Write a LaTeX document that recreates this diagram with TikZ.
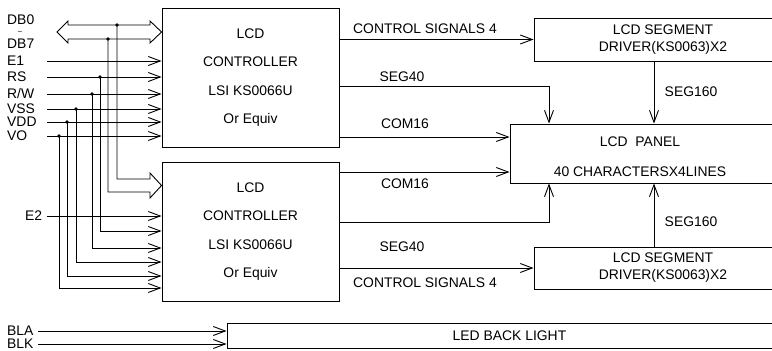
\documentclass[tikz,border=0pt]{standalone}
\usepackage{fontspec}
\setmainfont{Liberation Sans}
\usetikzlibrary{arrows.meta}

\begin{document}
\begin{tikzpicture}[x=1pt, y=-1pt,
  every node/.style={font=\fontsize{13.9}{17}\selectfont},
  block/.style={draw, line width=0.9pt, inner sep=0pt, align=center},
  ctrl/.style={block, minimum width=177, minimum height=139,
    font=\fontsize{13.9}{28.5}\selectfont},
  wire/.style={line width=0.9pt},
  sig/.style={line width=0.9pt, -{Straight Barb[length=12pt, width=9pt]}},
  pinlbl/.style={anchor=west, inner sep=0pt},
  lbl/.style={inner sep=0pt},
  tap/.style={circle, fill, inner sep=0pt, minimum size=3.6pt}
]
  \useasboundingbox (0,0) rectangle (772,351);
  \clip (0,0) rectangle (772,351);

  % blocks
  \node[ctrl] (ctrlA) at (250.5,77.5) {LCD\\CONTROLLER\\LSI KS0066U\\Or Equiv};
  \node[ctrl] (ctrlB) at (250.5,231.5) {LCD\\CONTROLLER\\LSI KS0066U\\Or Equiv};
  \node[block, minimum width=258, minimum height=43] (drvA) at (663,39.5)
    {LCD SEGMENT\\DRIVER(KS0063)X2};
  \node[block, minimum width=258, minimum height=42] (drvB) at (663,268)
    {LCD SEGMENT\\DRIVER(KS0063)X2};
  \node[block, minimum width=282, minimum height=59] (panel) at (651,153.5) {};
  \node[lbl, align=center, font=\fontsize{13.9}{30}\selectfont] (panelTxt) at (640,157)
    {LCD~~PANEL\\40 CHARACTERSX4LINES};
  \node[block, minimum width=565, minimum height=25.5] (led) at (509.5,335.75) {LED BACK LIGHT};

  % data bus
  \node[pinlbl] (lDB0) at (7,20) {DB0};
  \node[lbl, font=\fontsize{8}{8}\selectfont] (lTilde) at (20,32.5) {\textasciitilde};
  \node[pinlbl] (lDB7) at (7,44) {DB7};
  \draw[wire] (68,25) -- (150,25) -- (150,21) -- (ctrlA.west |- 0,32) -- (150,43) -- (150,39)
    -- (68,39) -- (68,43) -- (57,32) -- (68,21) -- cycle;
  \node[tap] (tapDB0) at (117,25) {};
  \node[tap] (tapDB7) at (108,39) {};
  \draw[wire] (tapDB0.center) -- (117,179) -- (150,179) -- (150,173) -- (ctrlB.west |- 0,185.5)
    -- (150,198) -- (150,192) -- (108,192) -- (tapDB7.center);

  % control inputs
  \foreach \nm/\txt/\y in {E1/E1/61, RS/RS/77, RW/{R/W}/94, VSS/VSS/109, VDD/VDD/122, VO/VO/136}{
    \node[pinlbl] (l\nm) at (7,\y) {\txt};
    \coordinate (in\nm) at (47,\y);
    \draw[sig] (in\nm) -- (in\nm -| ctrlA.west);
  }
  \foreach \nm/\x/\ya/\yb in {RS/100/77/231, RW/92/94/248, VSS/76/109/262, VDD/67/122/276, VO/59/136/288}{
    \node[tap] (tap\nm) at (\x,\ya) {};
    \coordinate (bend\nm) at (\x,\yb);
    \draw[sig] (tap\nm.center) -- (bend\nm) -- (bend\nm -| ctrlB.west);
  }
  \node[pinlbl] (lE2) at (25,216) {E2};
  \coordinate (inE2) at (47,216);
  \draw[sig] (inE2) -- (inE2 -| ctrlB.west);

  % outputs
  \draw[sig] (ctrlA.east |- drvA.west) -- (drvA.west);
  \node[lbl] (lCtlA) at (425,29) {CONTROL SIGNALS 4};
  \coordinate (segA) at (549,86);
  \draw[sig] (segA -| ctrlA.east) -| (segA |- panel.north);
  \node[lbl] (lSegA) at (402,77) {SEG40};
  \coordinate (comA) at (0,137);
  \draw[sig] (comA -| ctrlA.east) -- (comA -| panel.west);
  \node[lbl] (lComA) at (405,124) {COM16};

  \coordinate (comB) at (0,172);
  \draw[sig] (comB -| ctrlB.east) -- (comB -| panel.west);
  \node[lbl] (lComB) at (405,184) {COM16};
  \coordinate (segB) at (549,222);
  \draw[sig] (segB -| ctrlB.east) -| (segB |- panel.south);
  \node[lbl] (lSegB) at (402,247) {SEG40};
  \draw[sig] (ctrlB.east |- drvB.west) -- (drvB.west);
  \node[lbl] (lCtlB) at (425,283) {CONTROL SIGNALS 4};

  \draw[sig] ([xshift=-9pt]drvA.south) -- ([xshift=-9pt]drvA.south |- panel.north);
  \node[lbl] (lSegC) at (691,92) {SEG160};
  \draw[sig] ([xshift=-9pt]drvB.north) -- ([xshift=-9pt]drvB.north |- panel.south);
  \node[lbl] (lSegD) at (691,222) {SEG160};

  % back light
  \foreach \nm/\y in {BLA/331, BLK/344}{
    \node[pinlbl] (l\nm) at (7,\y) {\nm};
    \coordinate (in\nm) at (38,\y);
    \draw[sig] (in\nm) -- (in\nm -| led.west);
  }
\end{tikzpicture}
\end{document}
